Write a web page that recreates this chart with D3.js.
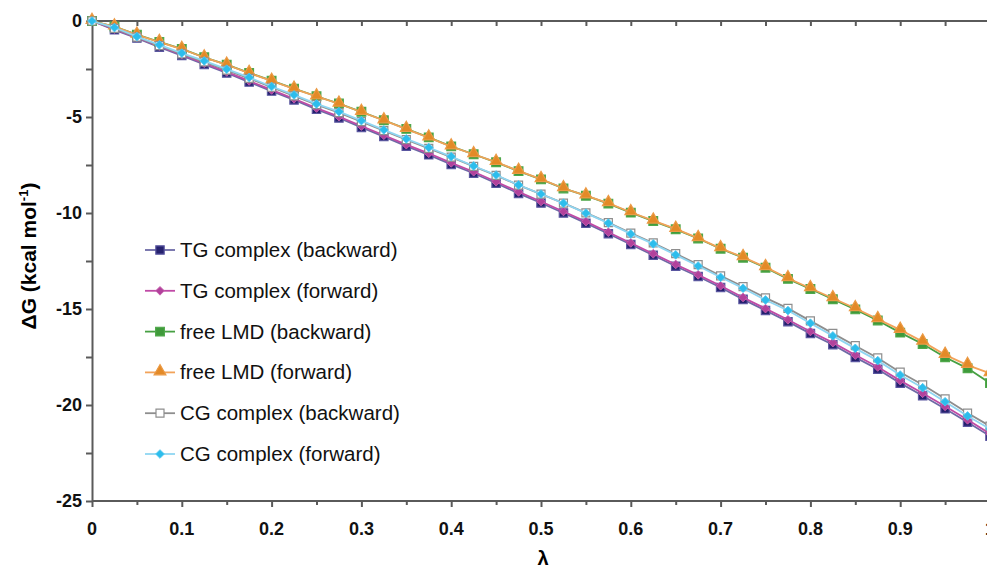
<!DOCTYPE html>
<html>
<head>
<meta charset="utf-8">
<script src="https://cdn.jsdelivr.net/npm/d3@7"></script>
<style>
  body { margin: 0; background: #fff; }
  svg { display: block; font-family: "Liberation Sans", Arial, sans-serif; }
  .axis path, .axis line { stroke: #5a5a5a; stroke-width: 2; }
  .axis text { font-weight: bold; font-size: 18px; fill: #111; }
</style>
</head>
<body>
<div class="chart"></div>
<script>
// Data (lambda steps of 0.025, values in kcal/mol)
const lambdas = d3.range(0, 41).map(i => i / 40);

const tgBackward = [0, -0.46, -0.89, -1.36, -1.80, -2.26, -2.71, -3.18, -3.65, -4.11, -4.60, -5.05, -5.54, -6.02, -6.52, -6.97, -7.47, -7.93, -8.45, -8.98, -9.48, -10.00, -10.53, -11.08, -11.64, -12.20, -12.77, -13.31, -13.88, -14.50, -15.08, -15.66, -16.28, -16.86, -17.52, -18.14, -18.86, -19.52, -20.20, -20.90, -21.62];
const tgForward = [0, -0.42, -0.85, -1.31, -1.75, -2.20, -2.65, -3.12, -3.59, -4.05, -4.53, -4.98, -5.47, -5.95, -6.44, -6.89, -7.39, -7.85, -8.37, -8.90, -9.40, -9.92, -10.45, -11.00, -11.56, -12.12, -12.68, -13.22, -13.79, -14.40, -14.98, -15.56, -16.17, -16.75, -17.40, -18.02, -18.73, -19.39, -20.07, -20.77, -21.50];
const lmdBackward = [0, -0.29, -0.71, -1.09, -1.45, -1.89, -2.27, -2.70, -3.11, -3.52, -3.92, -4.30, -4.73, -5.17, -5.62, -6.06, -6.53, -6.94, -7.36, -7.82, -8.25, -8.72, -9.10, -9.51, -9.98, -10.42, -10.85, -11.33, -11.86, -12.33, -12.85, -13.43, -13.96, -14.49, -15.02, -15.60, -16.23, -16.82, -17.51, -18.09, -18.86];
const lmdForward = [0, -0.29, -0.72, -1.10, -1.46, -1.90, -2.28, -2.71, -3.12, -3.53, -3.93, -4.31, -4.74, -5.18, -5.63, -6.07, -6.54, -6.94, -7.35, -7.81, -8.24, -8.71, -9.09, -9.49, -9.96, -10.40, -10.83, -11.31, -11.84, -12.30, -12.82, -13.40, -13.92, -14.44, -14.96, -15.53, -16.09, -16.70, -17.39, -17.92, -18.35];
const cgBackward = [0, -0.38, -0.84, -1.28, -1.71, -2.13, -2.56, -2.99, -3.45, -3.90, -4.36, -4.77, -5.24, -5.71, -6.18, -6.63, -7.09, -7.57, -8.04, -8.55, -9.02, -9.49, -9.99, -10.50, -11.05, -11.56, -12.12, -12.69, -13.27, -13.83, -14.42, -14.97, -15.62, -16.27, -16.91, -17.55, -18.29, -18.95, -19.68, -20.42, -21.10];
const cgForward = [0, -0.34, -0.81, -1.24, -1.67, -2.08, -2.51, -2.94, -3.41, -3.85, -4.32, -4.72, -5.19, -5.67, -6.14, -6.59, -7.06, -7.55, -8.02, -8.54, -9.01, -9.49, -10.01, -10.53, -11.09, -11.61, -12.18, -12.76, -13.35, -13.92, -14.53, -15.08, -15.74, -16.40, -17.05, -17.69, -18.44, -19.10, -19.83, -20.57, -21.25];

const seriesNames = ["TG complex (backward)", "TG complex (forward)", "free LMD (backward)", "free LMD (forward)", "CG complex (backward)", "CG complex (forward)"];
const seriesValues = [tgBackward, tgForward, lmdBackward, lmdForward, cgBackward, cgForward];

const xTicks = [0, 0.1, 0.2, 0.3, 0.4, 0.5, 0.6, 0.7, 0.8, 0.9, 1];
const yTicks = [0, -5, -10, -15, -20, -25];

// Styles per series
const styles = [
  {line: "#6e6aa6", fill: "#25216e", stroke: "#5a56a0", shape: "square", size: 70},
  {line: "#c04aa6", fill: "#b2419c", stroke: "#c865b0", shape: "diamond", size: 38},
  {line: "#47a043", fill: "#3f9a3b", stroke: "#4fa84a", shape: "square", size: 76},
  {line: "#f2a35a", fill: "#e38a27", stroke: "#eb9a45", shape: "triangle", size: 60},
  {line: "#8e8e8e", fill: "#ffffff", stroke: "#8e8e8e", shape: "square", size: 64},
  {line: "#8fd6f2", fill: "#2dbdec", stroke: "#52c8f0", shape: "diamond", size: 38}
];

// Dimensions
const W = 987, H = 569;
const x = d3.scaleLinear().domain([0, 1]).range([92, 990]);
const y = d3.scaleLinear().domain([0, -25]).range([21, 501]);

const svg = d3.select(".chart").append("svg")
    .attr("width", W)
    .attr("height", H);

// Axes
const minorX = d3.range(0, 20).map(i => i * 0.05);
const bottomAxis = svg.append("g")
    .attr("class", "axis x")
    .attr("transform", "translate(0," + y(-25) + ")")
    .call(d3.axisBottom(x).tickValues(minorX).tickSize(4).tickFormat("").tickSizeOuter(0));
bottomAxis.selectAll(".tick line").attr("y2", (d, i) => i % 2 ? 4 : 6);
bottomAxis.select(".domain").attr("d", "M" + x(0) + ",0H" + W);

const xLabels = svg.append("g")
    .attr("class", "axis");
xLabels.selectAll("text")
    .data(xTicks)
  .enter().append("text")
    .attr("x", d => x(d))
    .attr("y", 535)
    .attr("text-anchor", "middle")
    .text(d => d);

const topAxis = svg.append("g")
    .attr("class", "axis top")
    .attr("transform", "translate(0," + y(0) + ")")
    .call(d3.axisBottom(x).tickValues(minorX.slice(1)).tickSize(5).tickFormat("").tickSizeOuter(0));
topAxis.select(".domain").attr("d", "M" + x(0) + ",0H" + W);

const yAxis = svg.append("g")
    .attr("class", "axis y")
    .attr("transform", "translate(" + x(0) + ",0)")
    .call(d3.axisLeft(y).tickValues(d3.range(0, 11).map(i => -i * 2.5)).tickSize(6).tickSizeOuter(0)
      .tickFormat(d => yTicks.includes(d) ? d : ""));
yAxis.selectAll(".tick text").attr("x", -10);

svg.append("text")
    .attr("transform", "translate(36,256) rotate(-90)")
    .attr("text-anchor", "middle")
    .style("font-weight", "bold")
    .style("font-size", "21px")
    .html('ΔG (kcal mol<tspan dy="-8" font-size="13px">-1</tspan><tspan dy="8">)</tspan>');

svg.append("text")
    .attr("x", 543)
    .attr("y", 565)
    .attr("text-anchor", "middle")
    .style("font-weight", "bold")
    .style("font-size", "20px")
    .text("λ");

// Markers
function marker(sel, st) {
  if (st.shape === "triangle") {
    sel.attr("d", d3.symbol(d3.symbolTriangle, st.size));
  } else {
    sel.attr("d", d3.symbol(d3.symbolSquare, st.size));
  }
  sel.attr("fill", st.fill)
     .attr("stroke", st.stroke)
     .attr("stroke-width", st.shape === "diamond" ? 0.8 : 1.2);
}

function markerTransform(px, py, st) {
  return "translate(" + [px, py + (st.shape === "triangle" ? -1 : 0)] + ")" + (st.shape === "diamond" ? " rotate(45)" : "");
}

const lineGen = d3.line()
    .x((d, i) => x(lambdas[i]))
    .y(d => y(d));

seriesValues.forEach((vals, k) => {
  const st = styles[k];
  const g = svg.append("g").attr("class", "series");
  g.append("path")
      .attr("d", lineGen(vals))
      .attr("fill", "none")
      .attr("stroke", st.line)
      .attr("stroke-width", 1.8);
  g.selectAll(".pt")
      .data(vals)
    .enter().append("path")
      .attr("class", "pt")
      .attr("transform", (d, i) => markerTransform(x(lambdas[i]), y(d), st))
      .call(marker, st);
});

// Legend
const legend = svg.append("g").attr("class", "legend");
const rows = legend.selectAll("g")
    .data(seriesNames)
  .enter().append("g")
    .attr("transform", (d, i) => "translate(0," + (250 + i * 40.8) + ")");
rows.append("line")
    .attr("x1", 145).attr("x2", 175)
    .attr("stroke", (d, i) => styles[i].line)
    .attr("stroke-width", 1.8);
rows.append("path")
    .attr("transform", (d, i) => markerTransform(160, 0, styles[i]))
    .each(function(d, i) { d3.select(this).call(marker, styles[i]); });
rows.append("text")
    .attr("x", 180)
    .attr("y", 7)
    .style("font-size", "20.5px")
    .style("fill", "#111")
    .text(d => d);
</script>
</body>
</html>
